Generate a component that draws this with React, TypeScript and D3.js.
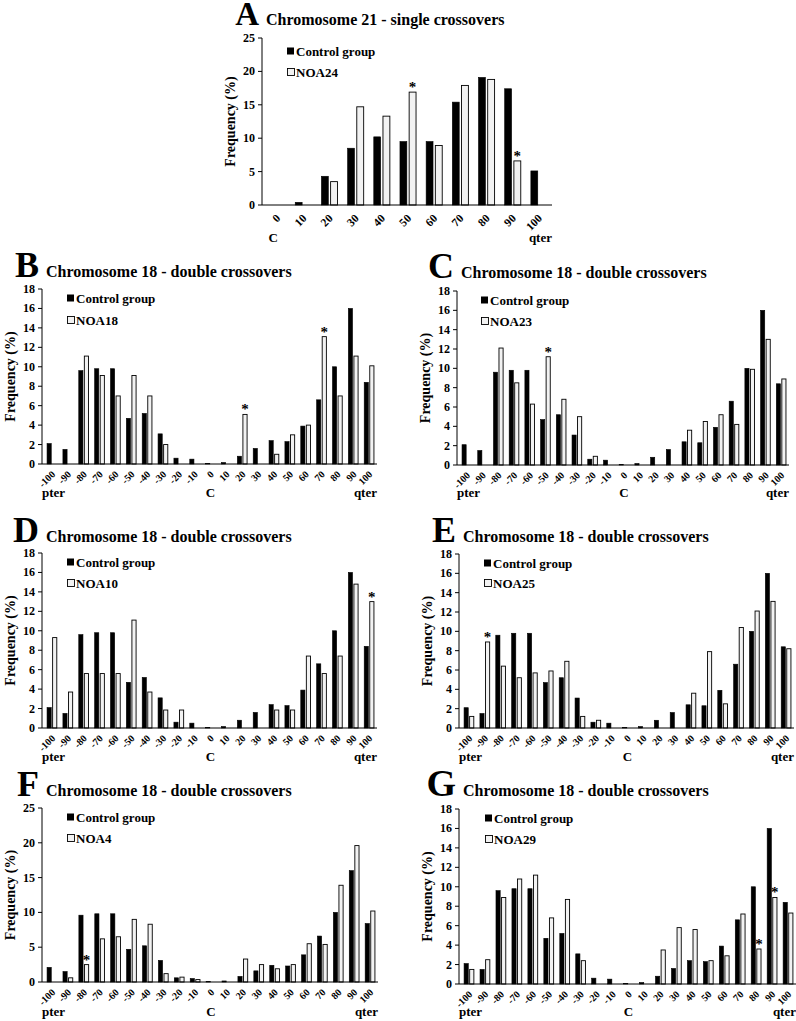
import React from 'react';
import * as d3 from 'd3';

// chromosome 21 - single crossovers (panel A)
const chr21Categories = ['0', '10', '20', '30', '40', '50', '60', '70', '80', '90', '100'];
const chr21Control = [0, 0.4, 4.3, 8.5, 10.2, 9.5, 9.5, 15.4, 19.1, 17.4, 5.1];
const noa24 = [0, 0, 3.5, 14.7, 13.3, 16.9, 8.9, 17.9, 18.8, 6.6, 0];
const noa24Stars = ['50', '90'];

// chromosome 18 - double crossovers (panels B-G)
const chr18Categories = ['-100', '-90', '-80', '-70', '-60', '-50', '-40', '-30', '-20', '-10',
  '0', '10', '20', '30', '40', '50', '60', '70', '80', '90', '100'];
const chr18Control = [2.1, 1.5, 9.6, 9.8, 9.8, 4.7, 5.2, 3.1, 0.6, 0.5, 0.05, 0.15, 0.8, 1.6, 2.4, 2.3, 3.9, 6.6, 10.0, 16.0, 8.4];
const noa18 = [0, 0, 11.1, 9.1, 7.0, 9.1, 7.0, 2.0, 0, 0, 0, 0, 5.1, 0, 1.0, 3.0, 4.0, 13.1, 7.0, 11.1, 10.1];
const noa23 = [0, 0, 12.1, 8.5, 6.3, 11.2, 6.8, 5.0, 0.9, 0, 0, 0, 0, 0, 3.6, 4.5, 5.2, 4.2, 9.9, 13.0, 8.9];
const noa10 = [9.3, 3.7, 5.6, 5.6, 5.6, 11.1, 3.7, 1.85, 1.85, 0, 0, 0, 0, 0, 1.85, 1.85, 7.4, 5.6, 7.4, 14.8, 13.0];
const noa25 = [1.2, 8.9, 6.4, 5.2, 5.7, 5.9, 6.9, 1.2, 0.8, 0, 0, 0, 0, 0, 3.6, 7.9, 2.5, 10.4, 12.1, 13.1, 8.2];
const noa4 = [0, 0.6, 2.5, 6.2, 6.5, 9.0, 8.3, 1.2, 0.7, 0.35, 0, 0, 3.3, 2.5, 1.9, 2.5, 5.5, 5.4, 13.9, 19.6, 10.2];
const noa29 = [1.5, 2.5, 8.9, 10.8, 11.2, 6.8, 8.7, 2.4, 0, 0, 0, 0, 3.5, 5.8, 5.6, 2.4, 2.9, 7.2, 3.6, 8.9, 7.3];
const noa18Stars = ['20', '70'];
const noa23Stars = ['-50'];
const noa10Stars = ['100'];
const noa25Stars = ['-90'];
const noa4Stars = ['-80'];
const noa29Stars = ['80', '90'];

const FONT = "'Liberation Serif', 'Times New Roman', serif";

const panels = [
  { letter: 'A', title: 'Chromosome 21 - single crossovers', cats: chr21Categories, control: chr21Control, noa: noa24, name: 'NOA24', stars: noa24Stars,
    yMax: 25, yStep: 5, axisX: 262, xEnd: 552, yTop: 38, yZero: 205, titleY: 25, letterSize: 33, legendX: 287, legendY: [51, 72], bottomY: 242, pter: false, tickFont: 11.5 },
  { letter: 'B', title: 'Chromosome 18 - double crossovers', cats: chr18Categories, control: chr18Control, noa: noa18, name: 'NOA18', stars: noa18Stars,
    yMax: 18, yStep: 2, axisX: 42, xEnd: 377, yTop: 289, yZero: 464, titleY: 277, letterSize: 36, legendX: 67, legendY: [298, 320], bottomY: 497, pter: true, tickFont: 10 },
  { letter: 'C', title: 'Chromosome 18 - double crossovers', cats: chr18Categories, control: chr18Control, noa: noa23, name: 'NOA23', stars: noa23Stars,
    yMax: 18, yStep: 2, axisX: 457, xEnd: 789, yTop: 291, yZero: 465, titleY: 278, letterSize: 36, legendX: 481, legendY: [300, 321], bottomY: 497, pter: true, tickFont: 10 },
  { letter: 'D', title: 'Chromosome 18 - double crossovers', cats: chr18Categories, control: chr18Control, noa: noa10, name: 'NOA10', stars: noa10Stars,
    yMax: 18, yStep: 2, axisX: 42, xEnd: 377, yTop: 553, yZero: 728, titleY: 542, letterSize: 36, legendX: 67, legendY: [562, 583], bottomY: 761, pter: true, tickFont: 10 },
  { letter: 'E', title: 'Chromosome 18 - double crossovers', cats: chr18Categories, control: chr18Control, noa: noa25, name: 'NOA25', stars: noa25Stars,
    yMax: 18, yStep: 2, axisX: 459, xEnd: 794, yTop: 554, yZero: 728, titleY: 542, letterSize: 36, legendX: 484, legendY: [563, 583], bottomY: 761, pter: true, tickFont: 10 },
  { letter: 'F', title: 'Chromosome 18 - double crossovers', cats: chr18Categories, control: chr18Control, noa: noa4, name: 'NOA4', stars: noa4Stars,
    yMax: 25, yStep: 5, axisX: 42, xEnd: 378, yTop: 808, yZero: 982, titleY: 796, letterSize: 36, legendX: 67, legendY: [817, 838], bottomY: 1016, pter: true, tickFont: 10 },
  { letter: 'G', title: 'Chromosome 18 - double crossovers', cats: chr18Categories, control: chr18Control, noa: noa29, name: 'NOA29', stars: noa29Stars,
    yMax: 18, yStep: 2, axisX: 459, xEnd: 796, yTop: 809, yZero: 984, titleY: 796, letterSize: 38, legendX: 485, legendY: [818, 839], bottomY: 1016, pter: true, tickFont: 10 },
];

const Panel = ({ p }) => {
  const x = d3.scaleBand().domain(p.cats).range([p.axisX + 2, p.xEnd]).padding(0);
  const inner = d3.scaleBand().domain(['control', 'noa']).range([0, x.bandwidth()])
    .paddingInner(0.25).paddingOuter(0.55);
  const y = d3.scaleLinear().domain([0, p.yMax]).range([p.yZero, p.yTop]);
  const ticks = d3.range(0, p.yMax + 0.001, p.yStep);
  const bw = inner.bandwidth();

  return (
    <g fontFamily={FONT} fontWeight="bold" fill="#000">
      {/* panel letter + title */}
      <text x={p.axisX - 3} y={p.titleY} textAnchor="end" fontSize={p.letterSize}>{p.letter}</text>
      <text x={p.axisX + 4} y={p.titleY} fontSize={16}>{p.title}</text>

      {/* y axis */}
      <line x1={p.axisX} x2={p.axisX} y1={p.yTop} y2={p.yZero} stroke="#000" />
      {ticks.map(t => (
        <g key={t}>
          <line x1={p.axisX - 4} x2={p.axisX} y1={y(t)} y2={y(t)} stroke="#000" />
          <text x={p.axisX - 7} y={y(t) + 4} textAnchor="end" fontSize={12}>{t}</text>
        </g>
      ))}
      <text transform={`translate(${p.axisX - 27},${(p.yTop + p.yZero) / 2}) rotate(-90)`}
        textAnchor="middle" fontSize={14}>Frequency (%)</text>

      {/* bars */}
      {p.cats.map((c, i) => {
        const x0 = x(c);
        const cv = p.control[i];
        const nv = p.noa[i];
        return (
          <g key={c}>
            {cv > 0 && <rect x={x0 + inner('control')} y={y(cv)} width={bw} height={p.yZero - y(cv)}
              fill="#000" stroke="#000" strokeWidth={0.6} />}
            {nv > 0 && <rect x={x0 + inner('noa')} y={y(nv)} width={bw} height={p.yZero - y(nv)}
              fill="#f2f2f2" stroke="#000" strokeWidth={0.9} />}
            {p.stars.includes(c) && <text x={x0 + inner('noa') + bw / 2} y={y(nv)} textAnchor="middle"
              fontSize={15} fill="#000">*</text>}
          </g>
        );
      })}

      {/* x axis */}
      <line x1={p.axisX} x2={p.xEnd} y1={p.yZero} y2={p.yZero} stroke="#000" />
      {p.cats.map(c => (
        <text key={c} transform={`translate(${x(c) + x.bandwidth() / 2 + 4},${p.yZero + (p.tickFont > 10 ? 14 : 11)}) rotate(-45)`}
          textAnchor="end" fontSize={p.tickFont}>{c}</text>
      ))}
      {p.pter && <text x={p.axisX} y={p.bottomY} fontSize={13}>pter</text>}
      <text x={x(p.pter ? '0' : p.cats[0]) + x.bandwidth() / 2 - (p.pter ? 0 : 4)} y={p.bottomY} textAnchor="middle" fontSize={13}>C</text>
      <text x={p.xEnd} y={p.bottomY} textAnchor="end" fontSize={13}>qter</text>

      {/* legend */}
      <rect x={p.legendX} y={p.legendY[0] - 3.5} width={7} height={7} fill="#000" />
      <text x={p.legendX + 9} y={p.legendY[0] + 4.5} fontSize={13}>Control group</text>
      <rect x={p.legendX + 0.5} y={p.legendY[1] - 3.5} width={7} height={7} fill="#f2f2f2" stroke="#000" strokeWidth={0.9} />
      <text x={p.legendX + 9} y={p.legendY[1] + 4.5} fontSize={13}>{p.name}</text>
    </g>
  );
};

export default function App() {
  return (
    <svg width={796} height={1021} style={{ position: 'absolute', left: 0, top: 0, background: '#fff' }}>
      <rect width={796} height={1021} fill="#fff" />
      {panels.map(p => <Panel key={p.letter} p={p} />)}
    </svg>
  );
}
